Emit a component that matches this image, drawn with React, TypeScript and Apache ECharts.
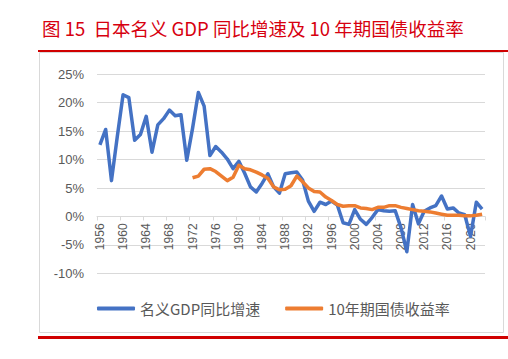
import React, { useEffect, useRef } from "react";
import * as echarts from "echarts";

const years: string[] = [];
for (let y = 1956; y <= 2022; y++) years.push(String(y));

const gdpGrowth = [
  12.6, 15.3, 6.3, 14.0, 21.4, 20.9, 13.4, 14.4, 17.6, 11.3,
  16.1, 17.2, 18.7, 17.7, 17.9, 9.9, 15.5, 21.8, 19.4, 10.7,
  12.3, 11.3, 10.1, 8.4, 9.7, 7.6, 5.2, 4.3, 5.8, 7.5,
  5.2, 4.1, 7.5, 7.7, 7.8, 6.4, 2.7, 0.9, 2.5, 2.1,
  2.7, 2.0, -1.1, -1.4, 1.2, -0.5, -1.4, -0.2, 1.2, 1.0,
  0.9, 1.0, -2.0, -6.2, 2.1, -1.3, 0.9, 1.5, 1.9, 3.6,
  1.3, 1.5, 0.6, 0.3, -3.5, 2.5, 1.3,
];

// 10-year JGB yield, from 1972
const bondYieldFrom1972 = [
  6.8, 7.1, 8.3, 8.4, 7.9, 7.1, 6.3, 6.9, 9.0, 8.4,
  8.2, 7.8, 7.3, 6.7, 5.2, 4.7, 4.8, 5.4, 7.1, 6.1,
  5.0, 4.4, 4.3, 3.4, 2.8, 2.1, 1.8, 1.9, 1.9, 1.5,
  1.4, 1.2, 1.6, 1.6, 1.9, 1.9, 1.6, 1.4, 1.2, 1.0,
  0.9, 0.8, 0.6, 0.4, 0.2, 0.2, 0.2, 0.1, 0.1, 0.2, 0.4,
];
const bondStartYear = 1972;

const yTicks = { min: -10, max: 25, interval: 5 };

const titleText = "图 15  日本名义 GDP 同比增速及 10 年期国债收益率";
const seriesNames = ["名义GDP同比增速", "10年期国债收益率"];

const GRID_TOP = 74.3;
const GRID_BOTTOM_Y = 273.3;

export default function App() {
  const ref = useRef<HTMLDivElement>(null);
  useEffect(() => {
    if (!ref.current) return;
    const chart = echarts.init(ref.current, null, { renderer: "svg" });
    const bond = years.map((y) => {
      const i = Number(y) - bondStartYear;
      return i >= 0 && i < bondYieldFrom1972.length ? bondYieldFrom1972[i] : null;
    });
    // distance from grid bottom to the zero line, so that the category axis sits on 0
    const zeroOffset =
      ((0 - yTicks.min) / (yTicks.max - yTicks.min)) * (GRID_BOTTOM_Y - GRID_TOP);
    chart.setOption({
      animation: false,
      backgroundColor: "#fff",
      title: {
        text: titleText,
        left: 37,
        top: 14,
        textStyle: {
          fontFamily: "Noto Sans CJK SC",
          fontSize: 18.5,
          fontWeight: "normal",
          color: "#d7000f",
        },
      },
      graphic: [
        { type: "rect", shape: { x: 39.5, y: 52.5, width: 464, height: 280 }, style: { fill: "none", stroke: "#d9d9d9", lineWidth: 1 } },
        { type: "rect", shape: { x: 38, y: 50, width: 470, height: 2 }, style: { fill: "#d00000" } },
        { type: "rect", shape: { x: 38, y: 336, width: 470, height: 3 }, style: { fill: "#d00000" } },
      ],
      grid: { left: 97, right: 23, top: GRID_TOP, bottom: 359 - GRID_BOTTOM_Y },
      legend: {
        left: 92,
        top: 296,
        itemWidth: 38,
        itemHeight: 4,
        itemGap: 25,
        icon: "roundRect",
        textStyle: { fontFamily: "Noto Sans CJK SC", fontSize: 15, color: "#595959" },
        data: seriesNames,
      },
      xAxis: {
        type: "category",
        data: years,
        boundaryGap: true,
        offset: -zeroOffset,
        axisLine: { onZero: false, lineStyle: { color: "#d9d9d9", width: 1 } },
        axisTick: { show: true, interval: 3, alignWithLabel: false, length: 4, lineStyle: { color: "#d9d9d9" } },
        axisLabel: {
          interval: 3,
          rotate: 90,
          margin: 7,
          fontFamily: "Liberation Sans",
          fontSize: 12,
          color: "#595959",
        },
      },
      yAxis: {
        type: "value",
        min: yTicks.min,
        max: yTicks.max,
        interval: yTicks.interval,
        axisLine: { show: false },
        axisTick: { show: false },
        splitLine: { lineStyle: { color: "#d9d9d9", width: 1 } },
        axisLabel: {
          margin: 13,
          fontFamily: "Liberation Sans",
          fontSize: 13,
          color: "#595959",
          formatter: (v: number) => `${v}%`,
        },
      },
      series: [
        {
          name: seriesNames[0],
          type: "line",
          data: gdpGrowth,
          symbol: "none",
          color: "#4472C4",
          lineStyle: { width: 3.5, color: "#4472C4", join: "round" },
        },
        {
          name: seriesNames[1],
          type: "line",
          data: bond,
          symbol: "none",
          connectNulls: false,
          color: "#ED7D31",
          lineStyle: { width: 3.5, color: "#ED7D31", join: "round" },
        },
      ],
    });
    return () => chart.dispose();
  }, []);
  return (
    <div
      ref={ref}
      style={{ position: "fixed", left: 0, top: 0, width: 508, height: 359, background: "#fff" }}
    />
  );
}
